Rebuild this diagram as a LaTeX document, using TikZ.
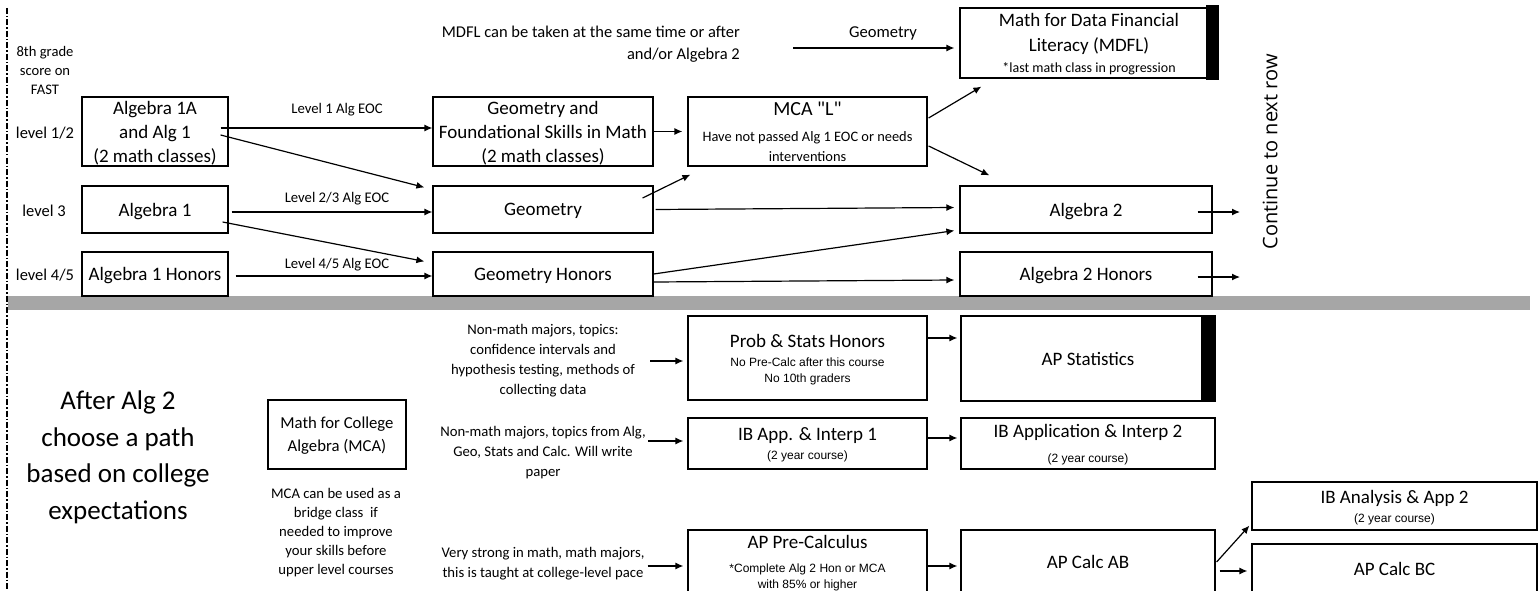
\documentclass[tikz,border=0pt]{standalone}
\usepackage{fontspec}
\setmainfont{Carlito}
\newfontfamily\arialfont{Liberation Sans}
\newfontfamily\segoefont{Open Sans}
\usetikzlibrary{arrows.meta}
\definecolor{bandgray}{RGB}{166,166,166}
\newcommand{\subtxt}[1]{{\arialfont\fontsize{12}{16}\selectfont #1}}

\begin{document}
\begin{tikzpicture}[x=1pt,y=-1pt,>={Latex[length=8pt,width=7pt]},
  course/.style={draw,line width=1.2pt,align=center,inner sep=0pt,text depth=0pt,font=\fontsize{19}{24}\selectfont},
  note/.style={align=center,inner sep=0pt,text depth=0pt,font=\fontsize{14.7}{20}\selectfont},
  arr/.style={->,line width=1.2pt}]

\clip (0,0) rectangle (1539,591);

%divider
\draw[line width=2pt,dash pattern=on 6pt off 2pt on 1.5pt off 2pt] (7,8) -- (7,591);
\fill[bandgray] (8,296) rectangle (1530,310);

\node[note,font=\fontsize{14.6}{19}\selectfont] (grade) at (45,70) {8th grade\\score on\\FAST};
\node[note,font=\fontsize{16.5}{20}\selectfont] (lv12) at (45,133) {level 1/2};
\node[note,font=\fontsize{16.5}{20}\selectfont] (lv3) at (44,211) {level 3};
\node[note,font=\fontsize{16.5}{20}\selectfont] (lv45) at (45,275) {level 4/5};

\node[course,minimum width=146pt,minimum height=69pt] (a1a) at (155,131.5) {Algebra 1A\\and Alg 1\\(2 math classes)};
\node[course,minimum width=146pt,minimum height=47pt] (a1) at (155,209.5) {Algebra 1};
\node[course,minimum width=146pt,minimum height=44pt] (a1h) at (155,274) {Algebra 1 Honors};

\node[course,minimum width=220pt,minimum height=69pt] (gf) at (543,131.5) {Geometry and\\Foundational Skills in Math\\(2 math classes)};
\node[course,minimum width=220pt,minimum height=47pt] (g) at (543,209.5) {Geometry};
\node[course,minimum width=220pt,minimum height=44pt] (gh) at (543,274) {Geometry Honors};

\node[course,minimum width=239pt,minimum height=69pt] (mcal) at (807.5,131.5) {{\fontsize{20}{24}\selectfont MCA \textquotedbl L\textquotedbl}\\[2pt]{\fontsize{14.4}{18}\selectfont Have not passed Alg 1 EOC or needs}\\[-4pt]{\fontsize{14.4}{18}\selectfont interventions}};

\node[course,minimum width=258pt,minimum height=70pt] (mdfl) at (1089,43) {Math for Data Financial\\[1pt]Literacy (MDFL)\\[-3pt]{\fontsize{14}{16}\selectfont *last math class in progression}};
\fill ([shift={(-13,-2)}]mdfl.north east) rectangle ([shift={(0,1)}]mdfl.south east);

\node[course,minimum width=252pt,minimum height=47pt] (a2) at (1086,209.5) {Algebra 2};
\node[course,minimum width=252pt,minimum height=44pt] (a2h) at (1086,274) {Algebra 2 Honors};

\node[note,font=\fontsize{14.7}{20}\selectfont] (eoc1) at (337,108) {Level 1 Alg EOC};
\node[note,font=\fontsize{14.7}{20}\selectfont] (eoc23) at (337,197) {Level 2/3 Alg EOC};
\node[note,font=\fontsize{14.7}{20}\selectfont] (eoc45) at (337,263) {Level 4/5 Alg EOC};

\node[note,align=right,anchor=east,font=\fontsize{16.5}{22}\selectfont] (mdflnote) at (740,43) {MDFL can be taken at the same time or after\\and/or Algebra 2};
\node[note,font=\fontsize{16.6}{20}\selectfont] (geolbl) at (883,32) {Geometry};
\coordinate (geostart) at (793,48);

\node[rotate=90,inner sep=0pt,font=\segoefont\fontsize{20}{24}\selectfont] (cont) at (1270,152) {Continue to next row};
\coordinate (next2) at (1240,212);
\coordinate (next2h) at (1240,277);

\draw[arr] ([shift={(-8,-3.5)}]a1a.east) -- ([shift={(0,-3.5)}]gf.west);
\draw[arr] ([shift={(-8,3.5)}]a1a.east) -- ([shift={(-8,2)}]g.north west);
\draw[arr] ([shift={(3,2.5)}]a1.east) -- ([shift={(0,2.5)}]g.west);
\draw[arr] ([shift={(-6,12.5)}]a1.east) -- ([shift={(-8,10)}]gh.north west);
\draw[arr] ([shift={(7,2)}]a1h.east) -- ([shift={(0,2)}]gh.west);
\draw[arr] (gf.east) -- ([shift={(-5,0)}]mcal.west);
\draw[arr] ([shift={(-11,-11.5)}]g.east) -- ([shift={(3,8)}]mcal.south west);
\draw[arr] ([shift={(2,0)}]g.east) -- ([shift={(-5,-2)}]a2.west);
\draw[arr] (gh.east) -- ([shift={(-5,-3)}]a2.south west);
\draw[arr] ([shift={(0,8)}]gh.east) -- ([shift={(-5,6)}]a2h.west);
\draw[arr] ([shift={(1,-13.5)}]mcal.east) -- ([shift={(22,8)}]mdfl.south west);
\draw[arr] ([shift={(1,14.5)}]mcal.east) -- ([shift={(30,-10)}]a2.north west);
\draw[arr] (geostart) -- ([shift={(-5,5)}]mdfl.west);
\draw[arr] ([shift={(-15,2.5)}]a2.east) -- (next2);
\draw[arr] ([shift={(-15,3)}]a2h.east) -- (next2h);

%after alg 2
\node[align=center,inner sep=0pt,text depth=0pt,font=\fontsize{27}{36.5}\selectfont] (after) at (118,455) {After Alg 2\\choose a path\\based on college\\expectations};

\node[course,font=\fontsize{16.7}{23}\selectfont,minimum width=138pt,minimum height=69pt] (mca) at (337,434.5) {Math for College\\Algebra (MCA)};
\node[note,font=\fontsize{14.7}{19}\selectfont] (mcanote) at (336,531) {MCA can be used as a\\bridge class~ if\\needed to improve\\your skills before\\upper level courses};

\node[note] (why1) at (543,359) {Non-math majors, topics:\\confidence intervals and\\hypothesis testing, methods of\\collecting data};
\node[note] (why2) at (543,451) {Non-math majors, topics from Alg,\\Geo, Stats and Calc. Will write\\paper};
\node[note] (why3) at (543,562) {Very strong in math, math majors,\\this is taught at college-level pace};

\node[course,minimum width=239pt,minimum height=84pt] (ps) at (807.5,358) {Prob \& Stats Honors\\[-5pt]\subtxt{No Pre-Calc after this course}\\[-8pt]\subtxt{No 10th graders}};
\node[course,minimum width=239pt,minimum height=51pt] (iba1) at (807.5,443.5) {IB App. \& Interp 1\\[-5pt]\subtxt{(2 year course)}};
\node[course,minimum width=239pt,minimum height=64pt] (pc) at (807.5,562) {AP Pre-Calculus\\\subtxt{*Complete Alg 2 Hon or MCA}\\[-8pt]\subtxt{with 85\% or higher}};

\node[course,minimum width=254pt,minimum height=85pt] (aps) at (1088,358.5) {AP Statistics};
\fill ([shift={(-15,0)}]aps.north east) rectangle (aps.south east);
\node[course,minimum width=254pt,minimum height=51pt] (iba2) at (1088,443.5) {IB Application \& Interp 2\\[1pt]\subtxt{(2 year course)}};
\node[course,minimum width=254pt,minimum height=64pt] (ab) at (1088,562) {AP Calc AB};

\node[course,minimum width=285pt,minimum height=48pt] (ibaa) at (1394.5,506) {IB Analysis \& App 2\\[-5pt]\subtxt{(2 year course)}};
\node[course,minimum width=285pt,minimum height=50pt] (bc) at (1394.5,569) {AP Calc BC};

\draw[arr] ([shift={(15,2)}]why1.east) -- ([shift={(-4,3)}]ps.west);
\draw[arr] ([shift={(2,-10)}]why2.east) -- ([shift={(-4,-2.5)}]iba1.west);
\draw[arr] ([shift={(3,4)}]why3.east) -- ([shift={(-4,4)}]pc.west);
\draw[arr] ([shift={(0,-20)}]ps.east) -- ([shift={(-3,-20.5)}]aps.west);
\draw[arr] ([shift={(0,-5.5)}]iba1.east) -- ([shift={(-3,-5.5)}]iba2.west);
\draw[arr] ([shift={(0,4)}]pc.east) -- ([shift={(-3,4)}]ab.west);
\draw[arr] ([shift={(1,0)}]ab.east) -- ([shift={(-2,-5)}]ibaa.south west);
\draw[arr] ([shift={(4,9)}]ab.east) -- ([shift={(-4,2)}]bc.west);
\end{tikzpicture}
\end{document}
